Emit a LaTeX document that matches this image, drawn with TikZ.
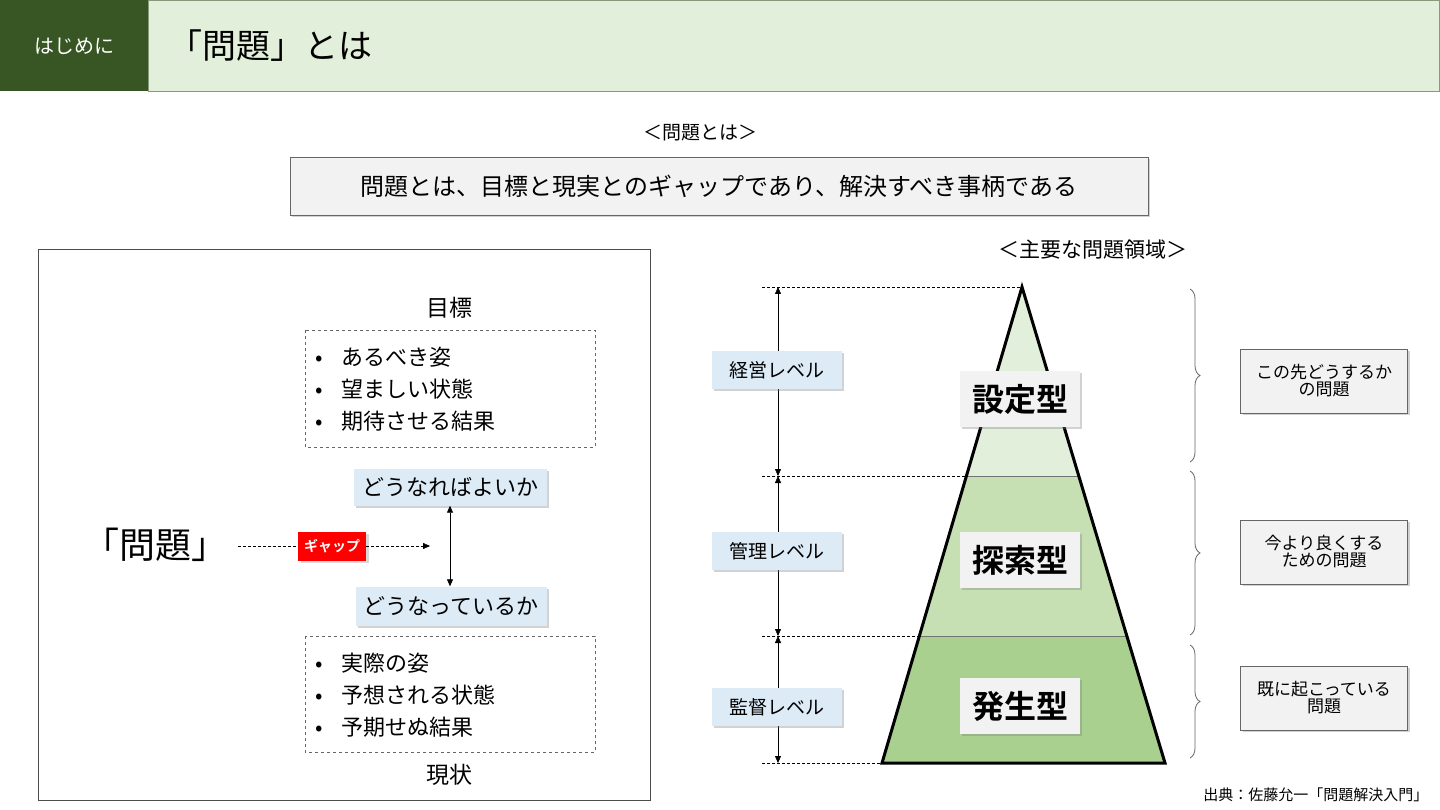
\documentclass[tikz,border=0pt]{standalone}
\usepackage{fontspec}
\setmainfont{Noto Sans CJK JP}[BoldFont={Noto Sans CJK JP Bold}]
\usetikzlibrary{shadows,decorations.pathreplacing,arrows.meta}
\definecolor{dg}{HTML}{375623}
\definecolor{lg}{HTML}{E2EFDA}
\definecolor{mg}{HTML}{C6E0B4}
\definecolor{bg}{HTML}{A9D08E}
\definecolor{lb}{HTML}{DDEBF7}
\definecolor{gy}{HTML}{F2F2F2}
\begin{document}
\begin{tikzpicture}[x=1pt,y=-1pt,
 fs/.style={font=\fontsize{#1}{#1}\selectfont},
 fb/.style={font=\fontsize{#1}{#1}\selectfont\bfseries},
 blue/.style={fill=lb,drop shadow={opacity=0.35,shadow xshift=2pt,shadow yshift=-2pt},inner sep=0pt,anchor=center},
 grybox/.style={fill=gy,draw=black!60,drop shadow={opacity=0.35,shadow xshift=2pt,shadow yshift=-2pt}},
 lvl/.style={blue,minimum width=130pt,minimum height=38pt,fs=19},
 typ/.style={fill=gy,minimum width=120pt,minimum height=56pt,fb=32,drop shadow={opacity=0.35,shadow xshift=2pt,shadow yshift=-2pt}},
 ddash/.style={densely dashed,thin},
 tip/.style={-{Triangle[length=7pt,width=6pt]}}]
\useasboundingbox (0,0) rectangle (1440,810);
\fill[white] (0,0) rectangle (1440,810);
% header
\fill[lg,draw=dg!60] (148,0) rectangle (1439,91);
\fill[dg] (0,0) rectangle (148,91);
\node[fs=20,white] (hd) at (74,46) {はじめに};
\node[fs=34,anchor=west] (ttl) at (165,46) {「問題」とは};
% subtitle
\node[fs=19] (st1) at (700,133) {＜問題とは＞};
\node[grybox,minimum width=858pt,minimum height=58pt,fs=24] (def) at (719,186) {問題とは、目標と現実とのギャップであり、解決すべき事柄である};
% left panel
\draw[black!70] (38,249) rectangle (650,800);
\node[fs=23] (mk) at (449,308) {目標};
\draw[black!60,dashed,thick] (305,330) rectangle (595,447);
\node[fs=22,anchor=west] (g1) at (312,357) {•\hspace{18pt}あるべき姿};
\node[fs=22,anchor=west] (g2) at (312,389) {•\hspace{18pt}望ましい状態};
\node[fs=22,anchor=west] (g3) at (312,421) {•\hspace{18pt}期待させる結果};
\node[blue,minimum width=193pt,minimum height=37pt,fs=22] (nb) at (450,487) {どうなればよいか};
\node[blue,minimum width=191pt,minimum height=39pt,fs=22] (nd) at (451,606) {どうなっているか};
\draw[{Triangle[length=7pt,width=6pt]}-{Triangle[length=7pt,width=6pt]},thick] (nb.south -| 450,0) -- (nd.north -| 450,0);
\node[fs=36] (mon) at (155,545) {「問題」};
\coordinate (ge) at (430,546);
\node[fill=red,text=white,fb=14,minimum width=68pt,minimum height=29pt,inner sep=0pt,drop shadow={opacity=0.3}] (gap) at (332,546) {ギャップ};
\draw[densely dashed] (238,546) -- (gap.west);
\draw[densely dashed,tip] (gap.east) -- (ge);
\draw[black!60,dashed,thick] (305,636) rectangle (595,752);
\node[fs=22,anchor=west] (r1) at (312,663) {•\hspace{18pt}実際の姿};
\node[fs=22,anchor=west] (r2) at (312,695) {•\hspace{18pt}予想される状態};
\node[fs=22,anchor=west] (r3) at (312,727) {•\hspace{18pt}予期せぬ結果};
\node[fs=23] (gj) at (449,775) {現状};
% pyramid
\node[fs=21] (st2) at (1093,250) {＜主要な問題領域＞};
\coordinate (ap) at (1022,287);
\coordinate (l1) at (966.4,476); \coordinate (r1p) at (1079.1,476);
\coordinate (l2) at (919.4,636); \coordinate (r2p) at (1126.8,636);
\coordinate (bl) at (882,763); \coordinate (br) at (1165,763);
\fill[lg] (ap) -- (l1) -- (r1p) -- cycle;
\fill[mg] (l1) -- (l2) -- (r2p) -- (r1p) -- cycle;
\fill[bg] (l2) -- (bl) -- (br) -- (r2p) -- cycle;
\draw[black!55,thick] (l1) -- (r1p) (l2) -- (r2p);
\draw[line width=3pt,line join=miter] (ap) -- (bl) -- (br) -- cycle;
\coordinate (d0) at (762,287); \coordinate (d1) at (762,476);
\coordinate (d2) at (762,636); \coordinate (d3) at (762,763);
\draw[ddash] (d0) -- (ap);
\draw[ddash] (d1) -- (l1);
\draw[ddash] (d2) -- (l2);
\draw[ddash] (d3) -- (bl);
\coordinate (a0) at (778,287); \coordinate (a1) at (778,476);
\coordinate (a2) at (778,636); \coordinate (a3) at (778,763);
\draw[{Triangle[length=7pt,width=6pt]}-{Triangle[length=7pt,width=6pt]}] (a0) -- (a1);
\draw[{Triangle[length=7pt,width=6pt]}-{Triangle[length=7pt,width=6pt]}] (a1) -- (a2);
\draw[{Triangle[length=7pt,width=6pt]}-{Triangle[length=7pt,width=6pt]}] (a2) -- (a3);
\node[lvl] (lv1) at (777,370) {経営レベル};
\node[lvl] (lv2) at (777,551) {管理レベル};
\node[lvl] (lv3) at (777,707) {監督レベル};
\node[typ] (t1) at (1020,399) {設定型};
\node[typ] (t2) at (1020,560) {探索型};
\node[typ] (t3) at (1020,706) {発生型};
% braces
\draw[black!60,thick,decorate,decoration={brace,amplitude=10pt}] (1190,289) -- (1190,462);
\draw[black!60,thick,decorate,decoration={brace,amplitude=10pt}] (1190,471) -- (1190,635);
\draw[black!60,thick,decorate,decoration={brace,amplitude=10pt}] (1190,645) -- (1190,758);
\node[grybox,minimum width=167pt,minimum height=64pt,fs=17,align=center] (b1) at (1324,381) {この先どうするか\\の問題};
\node[grybox,minimum width=167pt,minimum height=64pt,fs=17,align=center] (b2) at (1324,552) {今より良くする\\ための問題};
\node[grybox,minimum width=167pt,minimum height=64pt,fs=17,align=center] (b3) at (1324,698) {既に起こっている\\問題};
\node[fs=15,anchor=east] (src) at (1432,795) {出典：佐藤允一「問題解決入門」};
\end{tikzpicture}
\end{document}
